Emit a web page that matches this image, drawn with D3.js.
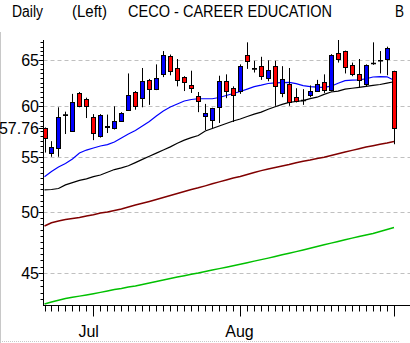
<!DOCTYPE html>
<html>
<head>
  <meta charset="utf-8">
  <title>CECO Daily</title>
  <script src="https://d3js.org/d3.v7.min.js"></script>
  <style>
    body { margin: 0; background: #fff; }
    text { font-family: "Liberation Sans", Arial, sans-serif; fill: #000; }
  </style>
</head>
<body>
  <div id="chart"></div>
  <script>
    // trading days, Jun 22 - Sep 1
    var dates = ["06-22","06-23","06-24","06-25","06-28","06-29","06-30",
      "07-01","07-02","07-06","07-07","07-08","07-09","07-12","07-13","07-14","07-15","07-16",
      "07-19","07-20","07-21","07-22","07-23","07-26","07-27","07-28","07-29","07-30",
      "08-02","08-03","08-04","08-05","08-06","08-09","08-10","08-11","08-12","08-13",
      "08-16","08-17","08-18","08-19","08-20","08-23","08-24","08-25","08-26","08-27",
      "08-30","08-31","09-01"];
    var monthNames = {"07": "Jul", "08": "Aug", "09": "Sep"};

    var open  = [57.8,55.36,55.8,59.1,57.5,61.4,60.75,58.9,57.0,58.0,57.8,58.5,59.65,61.5,60.9,62.8,61.85,63.4,65.4,64.1,
                 63.1,62.2,61.05,59.05,58.6,59.9,62.7,61.97,61.6,65.5,64.0,64.3,63.05,64.3,61.4,62.4,61.0,60.6,61.2,61.6,
                 62.6,61.75,65.75,66.0,64.4,63.4,62.4,64.6,64.9,65.1,63.8];
    var high  = [57.85,56.5,59.9,59.45,61.3,61.5,60.9,59.2,59.2,59.15,60.0,59.4,63.5,61.6,64.1,62.9,64.5,66.0,65.6,65.1,
                 63.2,63.8,61.5,60.25,59.85,63.25,63.4,62.1,64.5,67.0,64.9,65.35,64.95,64.9,64.3,64.1,61.9,61.8,62.2,62.8,
                 63.4,65.65,67.4,66.05,64.7,65.1,64.5,67.0,66.0,66.5,63.8];
    var low   = [55.4,55.0,55.0,57.2,57.4,59.9,58.8,56.6,56.85,57.3,57.65,58.4,59.55,59.65,59.9,60.15,61.7,63.1,63.3,62.1,
                 61.6,61.4,59.4,57.6,57.8,58.3,60.85,58.4,61.3,64.0,63.6,62.8,62.65,60.05,60.95,60.05,60.4,60.15,60.95,61.55,
                 61.4,61.55,64.7,63.5,63.2,62.0,62.1,64.45,63.5,63.3,56.2];
    var close = [56.8,55.9,58.9,59.1,60.5,60.05,60.0,57.3,59.15,57.95,58.5,59.3,61.15,60.05,62.7,61.8,63.05,65.5,63.8,62.8,
                 62.6,61.9,60.6,59.3,59.8,62.7,61.65,61.2,64.3,64.9,64.0,63.2,63.9,62.1,62.85,60.5,60.6,60.6,61.6,62.4,
                 61.75,65.5,65.1,64.2,63.4,62.8,64.4,64.6,64.9,66.3,57.76];

    // moving averages
    var maBlue  = [53.14,53.62,54.04,54.37,54.79,55.36,55.64,55.84,56.03,56.17,56.42,56.81,57.2,57.55,58.0,58.45,59.01,59.51,59.93,60.24,
                   60.55,60.71,60.79,60.79,60.79,60.92,61.13,61.34,61.55,61.81,62.07,62.23,62.41,62.48,62.5,62.52,62.39,62.18,62.07,62.02,
                   61.99,62.12,62.44,62.71,62.78,62.81,62.92,63.11,63.16,63.13,62.76];
    var maBlack = [51.95,51.98,52.07,52.4,52.6,52.8,52.95,53.15,53.3,53.55,53.8,53.95,54.15,54.45,54.75,55.05,55.35,55.65,55.95,56.3,
                   56.6,56.85,57.05,57.5,57.75,58.0,58.25,58.5,58.7,58.95,59.2,59.4,59.7,59.95,60.2,60.4,60.5,60.6,60.8,60.95,
                   61.25,61.5,61.6,61.8,61.9,62.0,62.1,62.2,62.3,62.45,62.6];
    var maRed   = [48.81,49.08,49.23,49.36,49.45,49.53,49.66,49.76,49.92,50.01,50.13,50.26,50.44,50.61,50.76,50.92,51.09,51.27,51.45,51.62,
                   51.8,51.98,52.13,52.31,52.5,52.67,52.84,53.02,53.16,53.34,53.53,53.7,53.85,53.99,54.13,54.27,54.43,54.57,54.69,54.84,
                   54.96,55.12,55.29,55.45,55.61,55.77,55.93,56.06,56.19,56.32,56.47];
    var maGreen = [42.67,42.82,42.95,43.08,43.17,43.25,43.34,43.43,43.53,43.64,43.75,43.83,43.94,44.02,44.13,44.24,44.36,44.47,44.59,44.7,
                   44.8,44.91,45.01,45.13,45.25,45.35,45.46,45.58,45.69,45.81,45.94,46.06,46.18,46.31,46.45,46.57,46.7,46.83,46.97,47.12,
                   47.25,47.39,47.53,47.66,47.8,47.93,48.06,48.19,48.35,48.52,48.68];

    var yMajor = [45, 50, 55, 60, 65];

    var W = 410, H = 343;
    var plotL = 43.5, plotR = 410, plotT = 40, plotB = 305.5;

    var svg = d3.select("#chart").append("svg")
      .attr("width", W).attr("height", H);

    var x = d3.scaleLinear().domain([0, dates.length - 1]).range([44.5, 394]);
    var y = d3.scaleLog().domain([42.52, 67.27]).range([306, 40]);

    function px(v) { return Math.round(v) + 0.5; }

    // frame
    svg.append("line").attr("x1", 0.5).attr("x2", 0.5).attr("y1", 32).attr("y2", H)
      .attr("stroke", "#c8c8c8");
    svg.append("line").attr("x1", 0).attr("x2", 400).attr("y1", 341.5).attr("y2", 341.5)
      .attr("stroke", "#c8c8c8").attr("stroke-dasharray", "1,1");

    // header
    var header = [["Daily", 12, 31], ["(Left)", 72, 35], ["CECO - CAREER EDUCATION", 128, 204], ["B", 395, 9]];
    svg.selectAll(".hdr").data(header).enter().append("text")
      .attr("class", "hdr")
      .attr("x", function(d) { return d[1]; })
      .attr("y", 17)
      .attr("font-size", 16)
      .attr("textLength", function(d) { return d[2]; })
      .attr("lengthAdjust", "spacingAndGlyphs")
      .text(function(d) { return d[0]; });

    // grid
    svg.selectAll(".grid").data(yMajor).enter().append("line")
      .attr("x1", plotL).attr("x2", plotR)
      .attr("y1", function(d) { return px(y(d)); })
      .attr("y2", function(d) { return px(y(d)); })
      .attr("stroke", "#c0c0c0")
      .attr("stroke-dasharray", "4,3");

    svg.append("clipPath").attr("id", "clip").append("rect")
      .attr("x", plotL).attr("y", plotT).attr("width", plotR - plotL).attr("height", plotB - plotT);
    var plot = svg.append("g").attr("clip-path", "url(#clip)");

    // moving averages
    var mas = [[maGreen, "#00c000", 1.5], [maRed, "#800000", 1.5], [maBlack, "#000", 1.2], [maBlue, "#0000ff", 1.2]];
    mas.forEach(function(m) {
      var line = d3.line()
        .x(function(d, i) { return x(i); })
        .y(function(d) { return y(d); });
      plot.append("path").datum(m[0])
        .attr("d", line)
        .attr("fill", "none")
        .attr("stroke", m[1])
        .attr("stroke-width", m[2]);
    });

    // candles
    var idx = d3.range(dates.length);
    var candle = plot.selectAll(".candle").data(idx).enter().append("g");

    candle.append("line")
      .attr("x1", function(i) { return px(x(i)); })
      .attr("x2", function(i) { return px(x(i)); })
      .attr("y1", function(i) { return y(high[i]); })
      .attr("y2", function(i) { return y(low[i]); })
      .attr("stroke", "#000");

    candle.filter(function(i) { return open[i] !== close[i]; })
      .append("rect")
      .attr("x", function(i) { return px(x(i)) - 2; })
      .attr("width", 4)
      .attr("y", function(i) { return px(y(Math.max(open[i], close[i]))); })
      .attr("height", function(i) {
        return Math.max(1, px(y(Math.min(open[i], close[i]))) - px(y(Math.max(open[i], close[i]))));
      })
      .attr("fill", function(i) { return close[i] > open[i] ? "#0000ff" : "#ff0000"; })
      .attr("stroke", "#000");

    candle.filter(function(i) { return open[i] === close[i]; })
      .append("line")
      .attr("x1", function(i) { return px(x(i)) - 2.5; })
      .attr("x2", function(i) { return px(x(i)) + 2.5; })
      .attr("y1", function(i) { return y(close[i]); })
      .attr("y2", function(i) { return y(close[i]); })
      .attr("stroke", "#000")
      .attr("stroke-width", 1.6);

    // left axis
    svg.append("line").attr("x1", plotL).attr("x2", plotL).attr("y1", plotT).attr("y2", plotB)
      .attr("stroke", "#000");
    var minor = d3.range(43, 67.5, 0.5);
    svg.selectAll(".ytick").data(minor).enter().append("line")
      .attr("x1", function(d) { return yMajor.indexOf(d) >= 0 ? plotL - 5 : plotL - 3; })
      .attr("x2", plotL)
      .attr("y1", function(d) { return px(y(d)); })
      .attr("y2", function(d) { return px(y(d)); })
      .attr("stroke", "#000");

    var lastClose = close[close.length - 1];
    var yLabels = yMajor.concat([lastClose]);
    svg.append("line").attr("x1", plotL - 5).attr("x2", plotL)
      .attr("y1", px(y(lastClose))).attr("y2", px(y(lastClose))).attr("stroke", "#000");
    svg.selectAll(".ylab").data(yLabels).enter().append("text")
      .attr("x", 39)
      .attr("y", function(d) { return y(d); })
      .attr("dy", "0.36em")
      .attr("text-anchor", "end")
      .attr("font-size", 16)
      .text(function(d) { return d === lastClose ? d.toFixed(2) : d; });

    // bottom axis
    svg.append("line").attr("x1", plotL - 0.5).attr("x2", plotR).attr("y1", plotB).attr("y2", plotB)
      .attr("stroke", "#000");
    var monthStart = idx.filter(function(i) {
      return i > 0 && dates[i].slice(0, 2) !== dates[i - 1].slice(0, 2);
    });
    svg.selectAll(".xtick").data(idx).enter().append("line")
      .attr("x1", function(i) { return px(x(i)); })
      .attr("x2", function(i) { return px(x(i)); })
      .attr("y1", plotB)
      .attr("y2", function(i) { return monthStart.indexOf(i) >= 0 ? plotB + 11 : plotB + 6; })
      .attr("stroke", "#000");
    svg.selectAll(".xlab").data(monthStart.filter(function(i) { return i < dates.length - 1; }))
      .enter().append("text")
      .attr("x", function(i) { return x(i) - 15; })
      .attr("y", 337)
      .attr("font-size", 16)
      .text(function(i) { return monthNames[dates[i].slice(0, 2)]; });
  </script>
</body>
</html>
